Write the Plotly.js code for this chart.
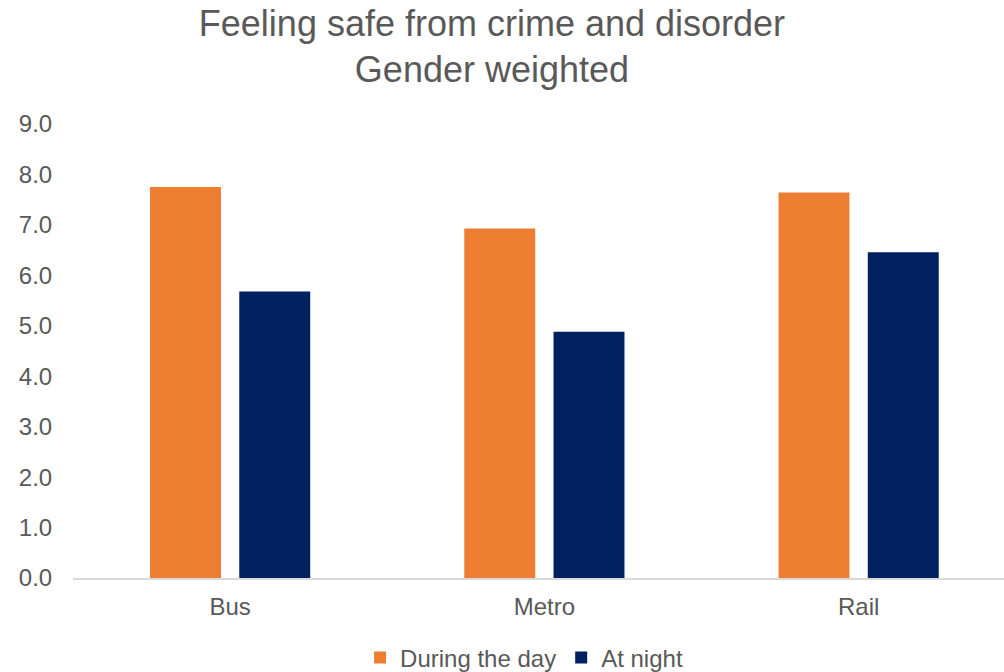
<!DOCTYPE html>
<html>
<head>
<meta charset="utf-8">
<script src="https://cdn.plot.ly/plotly-3.0.1.min.js"></script>
<style>html,body{margin:0;padding:0;background:#fff;}#chart{width:1004px;height:672px;}</style>
</head>
<body>
<div id="chart"></div>
<script>
const categories = ["Bus", "Metro", "Rail"];
const dayValues = [7.75, 6.93, 7.64];
const nightValues = [5.68, 4.88, 6.46];
const seriesNames = ["During the day", "At night"];
const yTickValues = [0, 1, 2, 3, 4, 5, 6, 7, 8, 9];

const font = "Liberation Sans, Arial, sans-serif";
const grey = "#595959";

const traces = [
  {type: "bar", name: seriesNames[0], x: categories, y: dayValues,
   marker: {color: "#ED7D31"}, hoverinfo: "y"},
  {type: "bar", name: seriesNames[1], x: categories, y: nightValues,
   marker: {color: "#002060"}, hoverinfo: "y"}
];

const layout = {
  width: 1004, height: 672,
  paper_bgcolor: "#fff", plot_bgcolor: "#fff",
  margin: {l: 73, r: 0, t: 124, b: 94, pad: 0},
  font: {family: font, color: grey, size: 24},
  title: {
    text: "Feeling safe from crime and disorder<br>Gender weighted",
    font: {family: font, size: 36, color: grey},
    x: 0.49, xref: "container", xanchor: "center",
    y: 0.947, yref: "container", yanchor: "top"
  },
  barmode: "group",
  bargap: 0.432,
  bargroupgap: 0.205,
  xaxis: {
    type: "category",
    range: [-0.5, 2.4626],
    showline: true, linecolor: "#d9d9d9", linewidth: 1.5,
    showgrid: false, zeroline: false,
    ticks: "outside", ticklen: 7, tickcolor: "rgba(0,0,0,0)",
    tickfont: {family: font, size: 24, color: grey}
  },
  yaxis: {
    range: [0, 9],
    tickvals: yTickValues,
    tickformat: ".1f",
    showline: false, showgrid: false, zeroline: false,
    ticks: "outside", ticklen: 15, tickcolor: "rgba(0,0,0,0)",
    tickfont: {family: font, size: 24, color: grey}
  },
  showlegend: true,
  legend: {
    orientation: "h",
    x: 0.522, xref: "container", xanchor: "center",
    y: 0.021, yref: "container", yanchor: "middle",
    font: {family: font, size: 24, color: grey},
    itemwidth: 30,
    traceorder: "normal"
  }
};

Plotly.newPlot("chart", traces, layout, {displayModeBar: false, staticPlot: true});
</script>
</body>
</html>
